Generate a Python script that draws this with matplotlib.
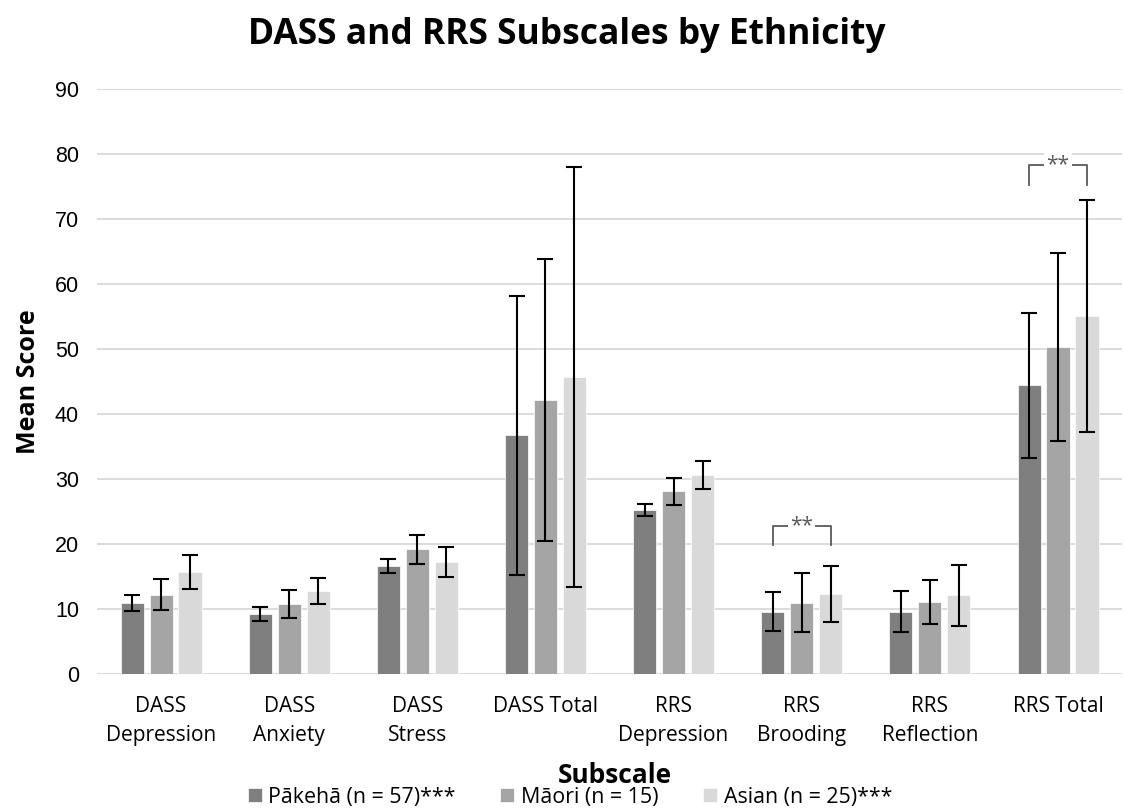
import matplotlib
matplotlib.use("Agg")
import matplotlib.pyplot as plt
import numpy as np

categories = ["DASS\nDepression", "DASS\nAnxiety", "DASS\nStress", "DASS Total",
              "RRS\nDepression", "RRS\nBrooding", "RRS\nReflection", "RRS Total"]
groups = ["Pākehā (n = 57)***", "Māori (n = 15)", "Asian (n = 25)***"]
pakeha = [10.9, 9.2, 16.6, 36.7, 25.2, 9.6, 9.6, 44.4]
maori = [12.2, 10.8, 19.2, 42.1, 28.1, 11.0, 11.1, 50.3]
asian = [15.7, 12.8, 17.2, 45.7, 30.6, 12.3, 12.1, 55.1]
pakeha_err = [1.2, 1.1, 1.05, 21.4, 0.9, 2.95, 3.1, 11.1]
maori_err = [2.4, 2.2, 2.2, 21.7, 2.05, 4.5, 3.35, 14.5]
asian_err = [2.6, 2.0, 2.3, 32.3, 2.2, 4.35, 4.7, 17.9]
colors = ["#7f7f7f", "#a5a5a5", "#d9d9d9"]
yticks = [0, 10, 20, 30, 40, 50, 60, 70, 80, 90]
# significance brackets: (category index, bracket top, leg bottom)
brackets = [(5, 22.8, 19.9), (7, 78.3, 75.3)]

plt.rcParams['font.family'] = ['Open Sans', 'DejaVu Sans']

fig = plt.figure(figsize=(11.24, 8.1), dpi=100)
ax = fig.add_axes([0.0863, 0.1679, 0.912, 0.7222])

x = np.arange(len(categories))
w = 0.18
off = 0.226
series = [pakeha, maori, asian]
errs = [pakeha_err, maori_err, asian_err]
for i, (vals, e, c, lab) in enumerate(zip(series, errs, colors, groups)):
    ax.bar(x + (i - 1) * off, vals, width=w, color=c, label=lab, zorder=2,
           edgecolor='white', linewidth=0.5)
    ax.errorbar(x + (i - 1) * off, vals, yerr=e, fmt='none', ecolor='black',
                elinewidth=1.5, capsize=6, capthick=1.5, zorder=3)

for ci, top, bot in brackets:
    x0 = ci - off
    x1 = ci + off
    ax.plot([x0, x0, x1, x1], [bot, top, top, bot], color='#595959', lw=1.3, zorder=4)
    ax.text(ci, top, "**", ha='center', va='center', fontsize=15, color='#595959',
            zorder=5, bbox=dict(facecolor='white', edgecolor='none', pad=1.5))

ax.set_ylim(0, 90)
ax.set_xlim(-0.5, len(categories) - 0.5)
ax.set_yticks(yticks)
ax.set_yticklabels([str(t) for t in yticks], family=['Liberation Sans', 'DejaVu Sans'])
ax.set_xticks(x)
ax.set_xticklabels(categories, fontsize=15, linespacing=1.5, va='top')
ax.tick_params(axis='y', labelsize=15.5, length=0, pad=13)
ax.tick_params(axis='x', length=0, pad=16)
ax.grid(axis='y', color='#d9d9d9', lw=1.3, zorder=0)
ax.set_axisbelow(True)
for s in ax.spines.values():
    s.set_visible(False)

ax.set_ylabel("Mean Score", fontsize=18, fontweight='bold', labelpad=10)
fig.text(0.504, 0.957, "DASS and RRS Subscales by Ethnicity", ha='center', va='center',
         fontsize=25.5, fontweight='bold')
fig.text(0.547, 0.043, "Subscale", ha='center', va='center', fontsize=19, fontweight='bold')

fig.legend(loc='center', bbox_to_anchor=(0.507, 0.016), ncol=3, frameon=False,
           fontsize=15.4, handlelength=0.65, handleheight=0.65, handletextpad=0.3,
           columnspacing=2.1, borderpad=0)

fig.savefig("out.png", dpi=100)
